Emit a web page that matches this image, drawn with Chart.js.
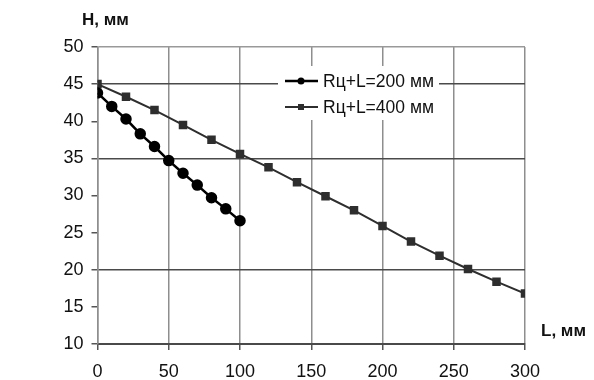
<!DOCTYPE html>
<html>
<head>
<meta charset="utf-8">
<script src="https://cdn.jsdelivr.net/npm/chart.js@4"></script>
<style>
    body { margin: 0; background: #fff; }
    #wrap { width: 594px; height: 380px; }
</style>
</head>
<body>
<div id="wrap"><canvas id="chart" width="594" height="380"></canvas></div>
<script>
// Данные
const lenShort = [0, 10, 20, 30, 40, 50, 60, 70, 80, 90, 100];
const h200 = [43.8, 42.0, 40.3, 38.3, 36.6, 34.7, 33.0, 31.4, 29.7, 28.2, 26.6];
const lenLong = [0, 20, 40, 60, 80, 100, 120, 140, 160, 180, 200, 220, 240, 260, 280, 300];
const h400 = [45.0, 43.3, 41.5, 39.5, 37.5, 35.6, 33.8, 31.8, 29.9, 28.0, 25.9, 23.8, 21.9, 20.1, 18.4, 16.8];
const seriesNames = ['Rц+L=200 мм', 'Rц+L=400 мм'];
const yTitle = 'H, мм';
const xTitle = 'L, мм';

const FONT = '"Liberation Sans", Arial, sans-serif';

// Подписи осей и легенда внутри области графика
const extras = {
    id: 'extras',
    afterDatasetsDraw(chart) {
        const c = chart.ctx;
        c.save();
        c.fillStyle = '#111';
        c.font = 'bold 17px ' + FONT;
        c.textBaseline = 'middle';
        c.textAlign = 'left';
        c.fillText(yTitle, 82, 20);
        c.fillText(xTitle, 541, 331);

        // легенда
        c.fillStyle = '#fff';
        c.fillRect(278, 66, 161, 54);
        const ds = chart.data.datasets;
        const rows = [81, 107];
        ds.forEach((d, i) => {
            const y = rows[i];
            c.strokeStyle = d.borderColor;
            c.lineWidth = d.borderWidth;
            c.beginPath();
            c.moveTo(285, y);
            c.lineTo(318, y);
            c.stroke();
            c.fillStyle = d.pointBackgroundColor;
            if (i === 0) {
                c.beginPath();
                c.arc(301, y, 3.5, 0, Math.PI * 2);
                c.fill();
            } else {
                c.fillRect(298, y - 3, 6, 6);
            }
            c.fillStyle = '#111';
            c.font = '17.5px ' + FONT;
            c.fillText(d.label, 323, y + 1);
        });
        c.restore();
    }
};

const canvas = document.querySelector('#chart').getContext('2d');
new Chart(canvas, {
    type: 'line',
    data: {
        datasets: [{
            label: seriesNames[0],
            data: lenShort.map((x, i) => ({ x: x, y: h200[i] })),
            borderColor: '#000',
            backgroundColor: '#000',
            pointBackgroundColor: '#000',
            pointBorderColor: '#000',
            pointStyle: 'circle',
            pointRadius: 4.5,
            borderWidth: 2.5
        }, {
            label: seriesNames[1],
            data: lenLong.map((x, i) => ({ x: x, y: h400[i] })),
            borderColor: '#2e2e2e',
            backgroundColor: '#2e2e2e',
            pointBackgroundColor: '#2e2e2e',
            pointBorderColor: '#2e2e2e',
            pointStyle: 'rect',
            pointRadius: 4.6,
            borderWidth: 2
        }]
    },
    options: {
        responsive: false,
        animation: false,
        layout: { padding: { top: 47, right: 69, left: 0, bottom: 0 } },
        plugins: {
            legend: { display: false },
            tooltip: { enabled: false }
        },
        scales: {
            x: {
                type: 'linear',
                min: 0,
                max: 300,
                ticks: {
                    stepSize: 50,
                    color: '#111',
                    padding: 11,
                    font: { family: FONT, size: 18 }
                },
                grid: {
                    color: '#8e8e8e',
                    lineWidth: 1.5,
                    tickLength: 6,
                    tickColor: '#555'
                },
                border: { color: '#4a4a4a', width: 2 },
                afterFit(scale) { scale.height = 36; }
            },
            y: {
                min: 10,
                max: 50,
                ticks: {
                    stepSize: 5,
                    color: '#111',
                    padding: 8,
                    font: { family: FONT, size: 18 }
                },
                grid: {
                    color(ctx) {
                        const v = ctx.tick && ctx.tick.value;
                        if (v === 45 || v === 35 || v === 20) return '#4a4a4a';
                        if (v === 50) return '#999';
                        return 'rgba(0,0,0,0)';
                    },
                    lineWidth: 1.5,
                    tickLength: 6,
                    tickColor: '#555'
                },
                border: { color: '#8e8e8e', width: 1.5 },
                afterFit(scale) { scale.width = 97.5; }
            }
        }
    },
    plugins: [extras]
});
</script>
</body>
</html>
